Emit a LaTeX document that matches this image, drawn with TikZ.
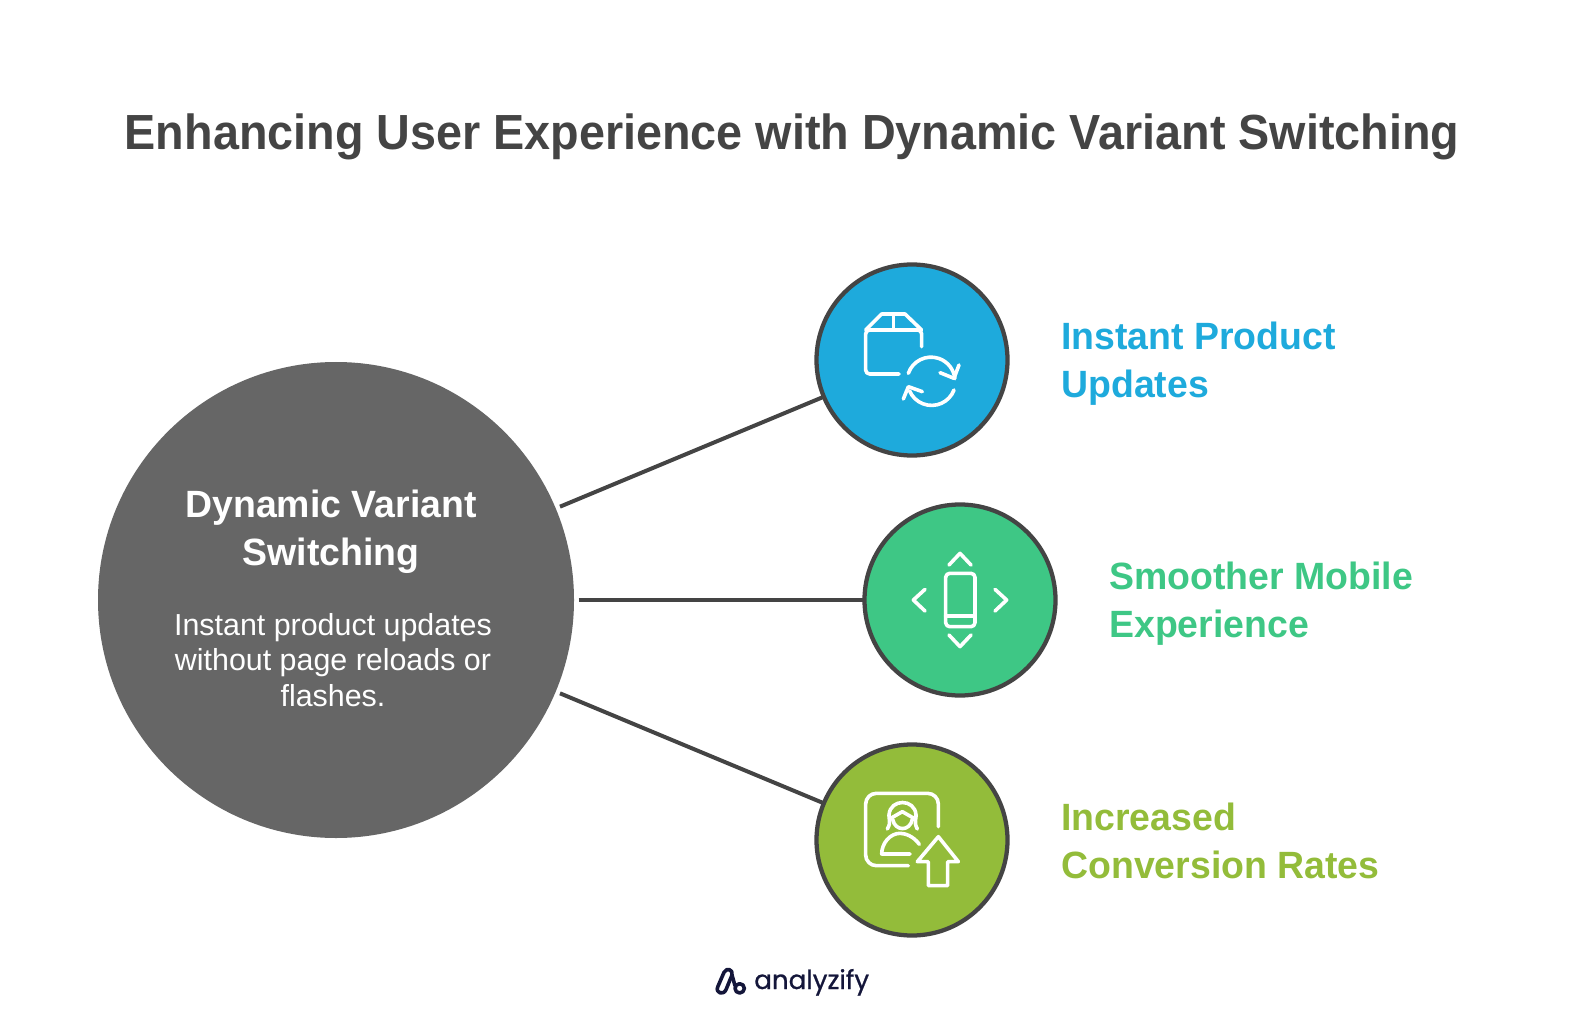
\documentclass[tikz,border=0pt]{standalone}
\usepackage{fontspec}
\setmainfont{Liberation Sans}
\newfontfamily\logofont{Poppins}
\newfontfamily\titlefont[FakeStretch=0.947]{Liberation Sans}
\newfontfamily\labelfont[FakeStretch=0.985]{Liberation Sans}
\definecolor{ink}{HTML}{444444}
\definecolor{hub}{HTML}{666666}
\definecolor{cblue}{HTML}{1EAADC}
\definecolor{cgreen}{HTML}{3EC785}
\definecolor{colive}{HTML}{93BC3A}
\definecolor{navy}{HTML}{14163A}
\tikzset{
  bubble/.style={circle,draw=ink,line width=3.2pt,minimum size=143.25pt,inner sep=0pt,outer sep=0pt},
  link/.style={draw=ink,line width=3pt},
  label/.style={anchor=west,align=left,inner sep=0pt,font=\labelfont\fontsize{28.5}{36}\selectfont\bfseries},
  icon/.style={draw=white,line width=2.7pt,line cap=round,line join=round},
  logoline/.style={navy,line width=2.7pt,line cap=round,line join=round},
}
\begin{document}
\begin{tikzpicture}[x=0.75pt,y=-0.75pt]
\useasboundingbox (0,0) rectangle (1584,1012);
\node[inner sep=0pt,text=ink,font=\titlefont\fontsize{37}{42}\selectfont\bfseries] (title) at (792,136.5) {Enhancing User Experience with Dynamic Variant Switching};
\node[circle,fill=hub,minimum size=357pt,inner sep=0pt,outer sep=0pt] (hub) at (336,600) {};
\node[bubble,fill=cblue] (n1) at (912,360) {};
\node[bubble,fill=cgreen] (n2) at (960,600) {};
\node[bubble,fill=colive] (n3) at (912,840) {};
\draw[link,shorten <=3.5pt] (hub) -- (n1);
\draw[link,shorten <=3.5pt] (hub) -- (n2);
\draw[link,shorten <=3.5pt] (hub) -- (n3);
\node[inner sep=0pt,align=center,text=white,font=\labelfont\fontsize{28.5}{36}\selectfont\bfseries] (hubtitle) at (331,532) {Dynamic Variant\\Switching};
\node[inner sep=0pt,align=center,text=white,font=\fontsize{22.8}{26.8}\selectfont] (hubtext) at (333,660) {Instant product updates\\without page reloads or\\flashes.};
\node[label,text=cblue] (l1) at (1061,364) {Instant Product\\Updates};
\node[label,text=cgreen] (l2) at (1109,604) {Smoother Mobile\\Experience};
\node[label,text=colive] (l3) at (1061,841) {Increased\\Conversion Rates};
% icon 1
\begin{scope}[shift={(800,250)},x=0.25pt,y=-0.25pt]
\draw[icon,rounded corners=3pt] (365,290) -- (365,240) -- (197,240) -- (197,372) -- (297,372);
\draw[icon] (197,240) -- (245,192) -- (315,192) -- (365,240);
\draw[icon] (280,192) -- (280,240);
\draw[icon] (325,370) arc[start angle=199,end angle=354,radius=72];
\draw[icon] (462,420) arc[start angle=21,end angle=157,radius=72];
\draw[icon] (420,368) -- (462,385) -- (477,345);
\draw[icon] (367,425) -- (325,410) -- (310,447);
\end{scope}
% icon 2
\begin{scope}[shift={(850,490)},x=0.25pt,y=-0.25pt]
\draw[icon,rounded corners=3pt] (287,250) rectangle (375,410);
\draw[icon] (287,378) -- (375,378);
\draw[icon] (297,225) -- (330,190) -- (363,225);
\draw[icon] (297,435) -- (330,470) -- (363,435);
\draw[icon] (225,298) -- (190,330) -- (225,363);
\draw[icon] (435,298) -- (470,330) -- (435,363);
\end{scope}
% icon 3
\begin{scope}[shift={(800,730)},x=0.25pt,y=-0.25pt]
\draw[icon,rounded corners=8pt] (415,290) -- (415,190) -- (197,190) -- (197,407) -- (325,407);
\draw[icon] (358,343) .. controls (340,318) and (315,310) .. (300,310) .. controls (270,310) and (245,340) .. (245,372) -- (330,372);
\draw[icon] (262,297) .. controls (275,275) and (265,265) .. (267,255) .. controls (270,205) and (345,205) .. (348,255) .. controls (350,265) and (340,275) .. (352,297);
\draw[icon] (272,265) -- (307,245) -- (342,265);
\draw[icon] (278,268) .. controls (285,305) and (330,305) .. (337,268);
\draw[icon] (415,320) -- (475,395) -- (443,395) -- (443,467) -- (385,467) -- (385,395) -- (352,395) -- cycle;
\end{scope}
% logo
\begin{scope}[shift={(700,955)},x=0.25pt,y=-0.25pt]
\draw[logoline] (53,96) -- (72,52) .. controls (80,36) and (100,44) .. (96,60) -- (78,104) .. controls (70,122) and (46,114) .. (53,96);
\draw[logoline] (96,60) -- (105,92);
\draw[logoline] (119,100) circle[radius=14];
\end{scope}
\node[inner sep=0pt,anchor=base west,text=navy,font=\logofont\fontsize{19.6}{24}\selectfont\addfontfeature{FakeBold=0.8}] (logo) at (754,989) {analyzify};
\end{tikzpicture}
\end{document}
